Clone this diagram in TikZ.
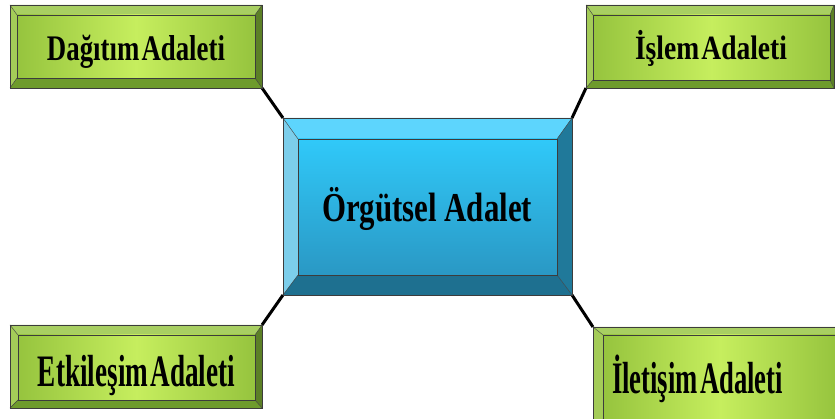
\documentclass[tikz,border=0pt]{standalone}
\usepackage{fontspec}
\setmainfont{Liberation Serif}
\usepackage{graphicx}
\definecolor{gtop}{HTML}{A8CF62}
\definecolor{gleft}{HTML}{A4CC58}
\definecolor{gbot}{HTML}{6E9B2C}
\definecolor{gright}{HTML}{5C8026}
\definecolor{gmid}{HTML}{C6EE5E}
\definecolor{gedge}{HTML}{96C43E}
\definecolor{btop}{HTML}{5DD5FD}
\definecolor{bleft}{HTML}{7CCEEB}
\definecolor{bbot}{HTML}{1E7090}
\definecolor{bright}{HTML}{20799A}
\definecolor{bfacetop}{HTML}{30C9F9}
\definecolor{bfacebot}{HTML}{2A98C4}
\definecolor{edge}{HTML}{3C3C3C}
\tikzset{
  boxshape/.style={inner sep=0pt, outer sep=0pt, draw=none},
  outline/.style={draw=edge, line width=0.7pt},
  link/.style={line width=3pt, black},
  label/.style={anchor=base, inner sep=0pt, font=\bfseries},
}
% #1 name, #2 l, #3 t, #4 r, #5 b, #6 colour prefix
\newcommand\bevelbox[6]{%
  \coordinate (#1-itl) at ([xshift=#2pt,yshift=-#3pt]#1.north west);
  \coordinate (#1-itr) at ([xshift=-#4pt,yshift=-#3pt]#1.north east);
  \coordinate (#1-ibl) at ([xshift=#2pt,yshift=#5pt]#1.south west);
  \coordinate (#1-ibr) at ([xshift=-#4pt,yshift=#5pt]#1.south east);
  \fill[#6top] (#1.north west) -- (#1.north east) -- (#1-itr) -- (#1-itl) -- cycle;
  \fill[#6left] (#1.north west) -- (#1-itl) -- (#1-ibl) -- (#1.south west) -- cycle;
  \fill[#6bot] (#1.south west) -- (#1-ibl) -- (#1-ibr) -- (#1.south east) -- cycle;
  \fill[#6right] (#1.north east) -- (#1.south east) -- (#1-ibr) -- (#1-itr) -- cycle;
  \draw[outline] (#1.north west) rectangle (#1.south east);
  \draw[outline, line width=0.4pt] (#1.north west) -- (#1-itl) (#1.north east) -- (#1-itr)
     (#1.south west) -- (#1-ibl) (#1.south east) -- (#1-ibr);
}
\newcommand\greenface[1]{%
  \shade[left color=gedge, right color=gedge, middle color=gmid] (#1-itl) rectangle (#1-ibr);
  \draw[outline, line width=0.5pt] (#1-itl) rectangle (#1-ibr);
}
\begin{document}
\begin{tikzpicture}[x=1pt, y=-1pt]
\clip (0,0) rectangle (835,419);
\fill[white] (0,0) rectangle (835,419);

\node[boxshape, minimum width=252pt, minimum height=83pt] (dag) at (136,46.5) {};
\node[boxshape, minimum width=248pt, minimum height=83pt] (islem) at (710,46.5) {};
\node[boxshape, minimum width=252pt, minimum height=83pt] (etk) at (136,366.5) {};
\node[boxshape, minimum width=252pt, minimum height=100pt] (ilet) at (719,377) {};
\node[boxshape, minimum width=289pt, minimum height=177pt] (org) at (427.5,206.5) {};

\draw[link] (dag.south east) -- (org.north west);
\draw[link] (islem.south west) -- (org.north east);
\draw[link] (etk.north east) -- (org.south west);
\draw[link] (ilet.north west) -- (org.south east);

\bevelbox{dag}{7}{10}{7}{10}{g}\greenface{dag}
\bevelbox{islem}{7}{10}{4}{8}{g}\greenface{islem}
\bevelbox{etk}{8}{10}{7}{8}{g}\greenface{etk}
\bevelbox{ilet}{10}{8}{8}{8}{g}\greenface{ilet}

\bevelbox{org}{15}{21}{15}{20}{b}
\shade[top color=bfacetop, bottom color=bfacebot] (org-itl) rectangle (org-ibr);
\draw[outline, line width=0.5pt] (org-itl) rectangle (org-ibr);

\node[label] (dagt) at (136,60.5) {\resizebox{178pt}{\height}{\fontsize{36}{40}\selectfont\bfseries Dağıtım\hspace{0.08em}Adaleti}};
\node[label] (islemt) at (711,60) {\resizebox{152pt}{\height}{\fontsize{34}{40}\selectfont\bfseries İşlem\hspace{0.08em}Adaleti}};
\node[label] (etkt) at (136.5,387) {\resizebox{197pt}{\height}{\fontsize{45}{50}\selectfont\bfseries Etkileşim\hspace{0.08em}Adaleti}};
\node[label] (iletlt) at (697.5,393) {\resizebox{171pt}{\height}{\fontsize{45}{50}\selectfont\bfseries İletişim\hspace{0.08em}Adaleti}};
\node[label] (orgt) at (427,222) {\resizebox{210pt}{\height}{\fontsize{41}{46}\selectfont\bfseries Örgütsel Adalet}};
\end{tikzpicture}
\end{document}
